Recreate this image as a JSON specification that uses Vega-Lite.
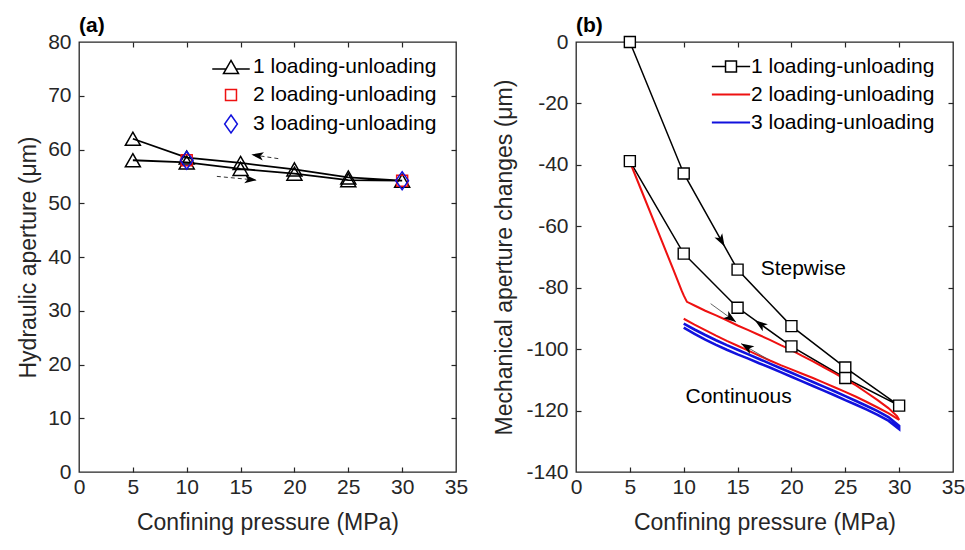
{
"$schema":"https://vega.github.io/schema/vega-lite/v6.json",
"autosize":{"type":"pad"},
"padding":{"left":16,"top":14,"right":2,"bottom":5},
"background":"white",
"spacing":120,
"bounds":"flush",
"config":{
 "font":"Liberation Sans",
 "view":{"stroke":"#262626","strokeWidth":1.3},
 "axis":{"labelFont":"Liberation Sans","titleFont":"Liberation Sans","labelFontSize":21,"titleFontSize":23,"titleFontWeight":"normal","labelColor":"#262626","titleColor":"#262626","tickColor":"#262626","tickWidth":1.2,"domain":false,"grid":false,"ticks":false,"tickSize":0,"labelFlush":false,"labelOverlap":false,"labelExpr":"datum.value + ''"},
 "legend":{"labelFont":"Liberation Sans","labelFontSize":21,"labelColor":"#000000","labelLimit":400},
 "title":{"font":"Liberation Sans","fontSize":21,"fontWeight":"bold","anchor":"start","color":"#000000"}
},
"datasets":{
 "ha":[
  {"s":"1 loading-unloading","step":1,"p":5,"v":58.0},
  {"s":"1 loading-unloading","step":2,"p":10,"v":57.6},
  {"s":"1 loading-unloading","step":3,"p":15,"v":56.4},
  {"s":"1 loading-unloading","step":4,"p":20,"v":55.5},
  {"s":"1 loading-unloading","step":5,"p":25,"v":54.3},
  {"s":"1 loading-unloading","step":6,"p":30,"v":54.2},
  {"s":"1 loading-unloading","step":7,"p":25,"v":54.8},
  {"s":"1 loading-unloading","step":8,"p":20,"v":56.3},
  {"s":"1 loading-unloading","step":9,"p":15,"v":57.5},
  {"s":"1 loading-unloading","step":10,"p":10,"v":58.5},
  {"s":"1 loading-unloading","step":11,"p":5,"v":62.0},
  {"s":"2 loading-unloading","step":1,"p":10,"v":58.0},
  {"s":"2 loading-unloading","step":2,"p":30,"v":54.2},
  {"s":"3 loading-unloading","step":1,"p":10,"v":58.0},
  {"s":"3 loading-unloading","step":2,"p":30,"v":54.2}
 ],
 "arrows_a":[
  {"x0":18.5,"y0":58.3,"x1":16.0,"y1":59.05},
  {"x0":12.8,"y0":55.0,"x1":16.5,"y1":54.3}
 ],
 "mb":[
  {"s":"1 loading-unloading","step":1,"p":5,"v":0},
  {"s":"1 loading-unloading","step":2,"p":10,"v":-42.8},
  {"s":"1 loading-unloading","step":3,"p":15,"v":-74.1},
  {"s":"1 loading-unloading","step":4,"p":20,"v":-92.5},
  {"s":"1 loading-unloading","step":5,"p":25,"v":-106.0},
  {"s":"1 loading-unloading","step":6,"p":30,"v":-118.4},
  {"s":"1 loading-unloading","step":7,"p":25,"v":-109.4},
  {"s":"1 loading-unloading","step":8,"p":20,"v":-99.1},
  {"s":"1 loading-unloading","step":9,"p":15,"v":-86.5},
  {"s":"1 loading-unloading","step":10,"p":10,"v":-68.9},
  {"s":"1 loading-unloading","step":11,"p":5,"v":-38.8},
  {"s":"2 loading-unloading","step":1,"p":5,"v":-39},
  {"s":"2 loading-unloading","step":2,"p":6,"v":-47.7},
  {"s":"2 loading-unloading","step":3,"p":7,"v":-56.4},
  {"s":"2 loading-unloading","step":4,"p":8,"v":-65.1},
  {"s":"2 loading-unloading","step":5,"p":9,"v":-73.8},
  {"s":"2 loading-unloading","step":6,"p":9.8,"v":-80.9},
  {"s":"2 loading-unloading","step":7,"p":10,"v":-82.5},
  {"s":"2 loading-unloading","step":8,"p":10.3,"v":-84.6},
  {"s":"2 loading-unloading","step":9,"p":10.6,"v":-85.1},
  {"s":"2 loading-unloading","step":10,"p":11,"v":-85.8},
  {"s":"2 loading-unloading","step":11,"p":12,"v":-87.5},
  {"s":"2 loading-unloading","step":12,"p":13,"v":-89.0},
  {"s":"2 loading-unloading","step":13,"p":14,"v":-90.6},
  {"s":"2 loading-unloading","step":14,"p":15,"v":-92.3},
  {"s":"2 loading-unloading","step":15,"p":16,"v":-93.8},
  {"s":"2 loading-unloading","step":16,"p":17,"v":-95.4},
  {"s":"2 loading-unloading","step":17,"p":18,"v":-97.0},
  {"s":"2 loading-unloading","step":18,"p":19,"v":-98.7},
  {"s":"2 loading-unloading","step":19,"p":20,"v":-100.3},
  {"s":"2 loading-unloading","step":20,"p":21,"v":-102.2},
  {"s":"2 loading-unloading","step":21,"p":22,"v":-104.0},
  {"s":"2 loading-unloading","step":22,"p":23,"v":-105.9},
  {"s":"2 loading-unloading","step":23,"p":24,"v":-107.8},
  {"s":"2 loading-unloading","step":24,"p":25,"v":-109.8},
  {"s":"2 loading-unloading","step":25,"p":26,"v":-111.8},
  {"s":"2 loading-unloading","step":26,"p":27,"v":-114.2},
  {"s":"2 loading-unloading","step":27,"p":28,"v":-116.6},
  {"s":"2 loading-unloading","step":28,"p":29,"v":-119.2},
  {"s":"2 loading-unloading","step":29,"p":29.8,"v":-121.8},
  {"s":"2 loading-unloading","step":30,"p":30,"v":-123.0},
  {"s":"2 loading-unloading","step":31,"p":29,"v":-120.8},
  {"s":"2 loading-unloading","step":32,"p":28,"v":-119.0},
  {"s":"2 loading-unloading","step":33,"p":27,"v":-117.2},
  {"s":"2 loading-unloading","step":34,"p":26,"v":-115.5},
  {"s":"2 loading-unloading","step":35,"p":25,"v":-113.9},
  {"s":"2 loading-unloading","step":36,"p":24,"v":-112.4},
  {"s":"2 loading-unloading","step":37,"p":23,"v":-110.9},
  {"s":"2 loading-unloading","step":38,"p":22,"v":-109.4},
  {"s":"2 loading-unloading","step":39,"p":21,"v":-108.0},
  {"s":"2 loading-unloading","step":40,"p":20,"v":-106.6},
  {"s":"2 loading-unloading","step":41,"p":19,"v":-105.2},
  {"s":"2 loading-unloading","step":42,"p":18,"v":-103.7},
  {"s":"2 loading-unloading","step":43,"p":17,"v":-102.1},
  {"s":"2 loading-unloading","step":44,"p":16,"v":-100.5},
  {"s":"2 loading-unloading","step":45,"p":15,"v":-98.9},
  {"s":"2 loading-unloading","step":46,"p":14,"v":-97.3},
  {"s":"2 loading-unloading","step":47,"p":13,"v":-95.6},
  {"s":"2 loading-unloading","step":48,"p":12,"v":-93.8},
  {"s":"2 loading-unloading","step":49,"p":11,"v":-92.0},
  {"s":"2 loading-unloading","step":50,"p":10,"v":-90.1},
  {"s":"3 loading-unloading","step":1,"p":10,"v":-91.7},
  {"s":"3 loading-unloading","step":2,"p":11,"v":-93.6},
  {"s":"3 loading-unloading","step":3,"p":12,"v":-95.4},
  {"s":"3 loading-unloading","step":4,"p":13,"v":-97.1},
  {"s":"3 loading-unloading","step":5,"p":14,"v":-98.7},
  {"s":"3 loading-unloading","step":6,"p":15,"v":-100.2},
  {"s":"3 loading-unloading","step":7,"p":16,"v":-101.7},
  {"s":"3 loading-unloading","step":8,"p":17,"v":-103.2},
  {"s":"3 loading-unloading","step":9,"p":18,"v":-104.7},
  {"s":"3 loading-unloading","step":10,"p":19,"v":-106.2},
  {"s":"3 loading-unloading","step":11,"p":20,"v":-107.7},
  {"s":"3 loading-unloading","step":12,"p":21,"v":-109.2},
  {"s":"3 loading-unloading","step":13,"p":22,"v":-110.7},
  {"s":"3 loading-unloading","step":14,"p":23,"v":-112.2},
  {"s":"3 loading-unloading","step":15,"p":24,"v":-113.7},
  {"s":"3 loading-unloading","step":16,"p":25,"v":-115.3},
  {"s":"3 loading-unloading","step":17,"p":26,"v":-116.9},
  {"s":"3 loading-unloading","step":18,"p":27,"v":-118.5},
  {"s":"3 loading-unloading","step":19,"p":28,"v":-120.2},
  {"s":"3 loading-unloading","step":20,"p":29,"v":-122.1},
  {"s":"3 loading-unloading","step":21,"p":30,"v":-125.0},
  {"s":"3 loading-unloading","step":22,"p":30,"v":-126.0},
  {"s":"3 loading-unloading","step":23,"p":29,"v":-123.3},
  {"s":"3 loading-unloading","step":24,"p":28,"v":-121.4},
  {"s":"3 loading-unloading","step":25,"p":27,"v":-119.7},
  {"s":"3 loading-unloading","step":26,"p":26,"v":-118.1},
  {"s":"3 loading-unloading","step":27,"p":25,"v":-116.6},
  {"s":"3 loading-unloading","step":28,"p":24,"v":-115.0},
  {"s":"3 loading-unloading","step":29,"p":23,"v":-113.5},
  {"s":"3 loading-unloading","step":30,"p":22,"v":-112.0},
  {"s":"3 loading-unloading","step":31,"p":21,"v":-110.5},
  {"s":"3 loading-unloading","step":32,"p":20,"v":-109.0},
  {"s":"3 loading-unloading","step":33,"p":19,"v":-107.5},
  {"s":"3 loading-unloading","step":34,"p":18,"v":-106.0},
  {"s":"3 loading-unloading","step":35,"p":17,"v":-104.6},
  {"s":"3 loading-unloading","step":36,"p":16,"v":-103.1},
  {"s":"3 loading-unloading","step":37,"p":15,"v":-101.7},
  {"s":"3 loading-unloading","step":38,"p":14,"v":-100.2},
  {"s":"3 loading-unloading","step":39,"p":13,"v":-98.6},
  {"s":"3 loading-unloading","step":40,"p":12,"v":-96.9},
  {"s":"3 loading-unloading","step":41,"p":11,"v":-95.0},
  {"s":"3 loading-unloading","step":42,"p":10,"v":-93.0}
 ],
 "notes_b":[
  {"p":21.1,"v":-74,"text":"Stepwise"},
  {"p":15.1,"v":-115.7,"text":"Continuous"}
 ],
 "shafts_b":[
  {"x0":12.5,"y0":-85.2,"x1":14.86,"y1":-91.2},
  {"x0":17.8,"y0":-103.3,"x1":15.32,"y1":-98.2}
 ],
 "heads_b":[
  {"x0":12.5,"y0":-85.2,"x1":14.86,"y1":-91.2},
  {"x0":17.8,"y0":-103.3,"x1":15.32,"y1":-98.2},
  {"x0":10,"y0":-42.8,"x1":13.8,"y1":-66.6},
  {"x0":20,"y0":-99.1,"x1":16.6,"y1":-90.6}
 ]
},
"resolve":{"scale":{"color":"independent","stroke":"independent","shape":"independent"},"legend":{"color":"independent"}},
"hconcat":[
 {
  "width":377,"height":430,
  "title":{"text":"(a)","frame":"group","anchor":"start","offset":-5},
  "resolve":{"axis":{"x":"independent","y":"independent"}},
  "layer":[
   {
    "data":{"name":"ha"},
    "transform":[{"filter":"datum.s === '1 loading-unloading'"}],
    "mark":{"type":"line","strokeWidth":1.8},
    "encoding":{
     "x":{"field":"p","type":"quantitative","scale":{"domain":[0,35],"nice":false,"zero":false},"axis":{"orient":"bottom","values":[0,5,10,15,20,25,30,35],"title":"Confining pressure (MPa)","labelPadding":4,"titlePadding":14}},
     "y":{"field":"v","type":"quantitative","scale":{"domain":[0,80],"nice":false,"zero":false},"axis":{"orient":"left","values":[0,10,20,30,40,50,60,70,80],"title":"Hydraulic aperture (μm)","labelPadding":8,"titlePadding":7}},
     "order":{"field":"step","type":"quantitative"},
     "color":{"field":"s","type":"nominal","scale":{"domain":["1 loading-unloading","2 loading-unloading","3 loading-unloading"],"range":["#000000","#ee1111","#1111dd"]},
      "legend":{"title":null,"orient":"none","legendX":141.5,"legendY":14.5,"padding":0,"symbolSize":225,"symbolStrokeWidth":1.5,"rowPadding":6,"labelOffset":11.5,"symbolOffset":0,
       "encoding":{"symbols":{"shape":{"value":{"expr":"datum.index === 0 ? 'M-2.5,0.25H-0.64M0.64,0.25H2.5M0,-0.87L1,0.87L-1,0.87Z' : datum.index === 1 ? 'M-0.73,-0.73H0.73V0.73H-0.73Z' : 'M0,-1.2L0.85,0L0,1.2L-0.85,0Z'"}},"strokeWidth":{"value":1.5}}}}}
    }
   },
   {
    "data":{"name":"ha"},
    "transform":[{"calculate":"'m' + substring(datum.s, 0, 1)","as":"mk"}],
    "mark":{"type":"point","filled":false,"strokeWidth":1.5,"size":225,"opacity":1},
    "encoding":{
     "x":{"field":"p","type":"quantitative","scale":{"domain":[0,35],"nice":false,"zero":false},"axis":{"orient":"top","offset":-5,"ticks":true,"tickSize":5,"labels":false,"title":null,"values":[5,10,15,20,25,30]}},
     "y":{"field":"v","type":"quantitative","scale":{"domain":[0,80],"nice":false,"zero":false},"axis":{"orient":"right","offset":-5,"ticks":true,"tickSize":5,"labels":false,"title":null,"values":[10,20,30,40,50,60,70]}},
     "stroke":{"field":"mk","type":"nominal","scale":{"domain":["m1","m2","m3"],"range":["#000000","#ee1111","#1111dd"]},"legend":null},
     "shape":{"field":"mk","type":"nominal","scale":{"domain":["m1","m2","m3"],"range":["M0,-0.87L1,0.87L-1,0.87Z","M-0.73,-0.73H0.73V0.73H-0.73Z","M0,-1.2L0.85,0L0,1.2L-0.85,0Z"]},"legend":null}
    }
   },
   {
    "data":{"name":"arrows_a"},
    "mark":{"type":"rule","color":"#333333","strokeWidth":1,"strokeDash":[4,3]},
    "encoding":{
     "x":{"field":"x0","type":"quantitative","scale":{"domain":[0,35],"nice":false,"zero":false},"axis":{"orient":"bottom","offset":-5,"ticks":true,"tickSize":5,"labels":false,"title":null,"values":[5,10,15,20,25,30]}},
     "y":{"field":"y0","type":"quantitative","scale":{"domain":[0,80],"nice":false,"zero":false},"axis":{"orient":"left","offset":-5,"ticks":true,"tickSize":5,"labels":false,"title":null,"values":[10,20,30,40,50,60,70]}},
     "x2":{"field":"x1"},
     "y2":{"field":"y1"}
    }
   },
   {
    "data":{"name":"arrows_a"},
    "transform":[{"calculate":"atan2((datum.x1-datum.x0)*10.771,(datum.y1-datum.y0)*5.375)*180/PI","as":"ang"}],
    "mark":{"type":"point","filled":true,"color":"#000000","size":230,"opacity":1,"shape":"M0,0L0.55,1.6L0,1.2L-0.55,1.6Z"},
    "encoding":{
     "x":{"field":"x1","type":"quantitative","scale":{"domain":[0,35],"nice":false,"zero":false},"axis":null},
     "y":{"field":"y1","type":"quantitative","scale":{"domain":[0,80],"nice":false,"zero":false},"axis":null},
     "angle":{"field":"ang","type":"quantitative","scale":null}
    }
   }
  ]
 },
 {
  "width":377,"height":430,
  "title":{"text":"(b)","frame":"group","anchor":"start","offset":-5},
  "resolve":{"axis":{"x":"independent","y":"independent"}},
  "layer":[
   {
    "data":{"name":"mb"},
    "mark":{"type":"line"},
    "encoding":{
     "x":{"field":"p","type":"quantitative","scale":{"domain":[0,35],"nice":false,"zero":false},"axis":{"orient":"bottom","values":[0,5,10,15,20,25,30,35],"title":"Confining pressure (MPa)","labelPadding":4,"titlePadding":14}},
     "y":{"field":"v","type":"quantitative","scale":{"domain":[-140,0],"nice":false,"zero":false},"axis":{"orient":"left","values":[-140,-120,-100,-80,-60,-40,-20,0],"title":"Mechanical aperture changes (μm)","labelPadding":8,"titlePadding":9}},
     "order":{"field":"step","type":"quantitative"},
     "strokeWidth":{"field":"s","type":"nominal","scale":{"domain":["1 loading-unloading","2 loading-unloading","3 loading-unloading"],"range":[1.5,2.6,2.6]},"legend":null},
     "color":{"field":"s","type":"nominal","scale":{"domain":["1 loading-unloading","2 loading-unloading","3 loading-unloading"],"range":["#000000","#ee1111","#1111dd"]},
      "legend":{"title":null,"orient":"none","legendX":144.5,"legendY":14,"padding":0,"symbolSize":225,"symbolStrokeWidth":2,"rowPadding":6,"labelOffset":9.5,"symbolOffset":0,
       "encoding":{"symbols":{"shape":{"value":{"expr":"datum.index === 0 ? 'M-2.55,0H-0.73M0.73,0H2.55M-0.73,-0.73H0.73V0.73H-0.73Z' : 'M-2.55,0H2.55'"}},"strokeWidth":{"value":{"expr":"datum.index === 0 ? 1.5 : 2.2"}}}}}}
    }
   },
   {
    "data":{"name":"mb"},
    "transform":[{"filter":"datum.s === '1 loading-unloading'"}],
    "mark":{"type":"point","shape":"square","filled":false,"fill":"#ffffff","stroke":"#000000","strokeWidth":1.4,"size":121,"opacity":1},
    "encoding":{
     "x":{"field":"p","type":"quantitative","scale":{"domain":[0,35],"nice":false,"zero":false},"axis":{"orient":"top","offset":-5,"ticks":true,"tickSize":5,"labels":false,"title":null,"values":[5,10,15,20,25,30]}},
     "y":{"field":"v","type":"quantitative","scale":{"domain":[-140,0],"nice":false,"zero":false},"axis":{"orient":"right","offset":-5,"ticks":true,"tickSize":5,"labels":false,"title":null,"values":[-120,-100,-80,-60,-40,-20]}}
    }
   },
   {
    "data":{"name":"notes_b"},
    "mark":{"type":"text","font":"Liberation Sans","fontSize":21,"color":"#000000","align":"center","baseline":"middle"},
    "encoding":{
     "x":{"field":"p","type":"quantitative","scale":{"domain":[0,35],"nice":false,"zero":false},"axis":{"orient":"bottom","offset":-5,"ticks":true,"tickSize":5,"labels":false,"title":null,"values":[5,10,15,20,25,30]}},
     "y":{"field":"v","type":"quantitative","scale":{"domain":[-140,0],"nice":false,"zero":false},"axis":{"orient":"left","offset":-5,"ticks":true,"tickSize":5,"labels":false,"title":null,"values":[-120,-100,-80,-60,-40,-20]}},
     "text":{"field":"text"}
    }
   },
   {
    "data":{"name":"shafts_b"},
    "mark":{"type":"rule","color":"#555555","strokeWidth":0.9},
    "encoding":{
     "x":{"field":"x0","type":"quantitative","scale":{"domain":[0,35],"nice":false,"zero":false},"axis":null},
     "y":{"field":"y0","type":"quantitative","scale":{"domain":[-140,0],"nice":false,"zero":false},"axis":null},
     "x2":{"field":"x1"},
     "y2":{"field":"y1"}
    }
   },
   {
    "data":{"name":"heads_b"},
    "transform":[{"calculate":"atan2((datum.x1-datum.x0)*10.771,(datum.y1-datum.y0)*3.0714)*180/PI","as":"ang"}],
    "mark":{"type":"point","filled":true,"color":"#000000","size":260,"opacity":1,"shape":"M0,0L0.55,1.6L0,1.2L-0.55,1.6Z"},
    "encoding":{
     "x":{"field":"x1","type":"quantitative","scale":{"domain":[0,35],"nice":false,"zero":false},"axis":null},
     "y":{"field":"y1","type":"quantitative","scale":{"domain":[-140,0],"nice":false,"zero":false},"axis":null},
     "angle":{"field":"ang","type":"quantitative","scale":null}
    }
   }
  ]
 }
]
}
